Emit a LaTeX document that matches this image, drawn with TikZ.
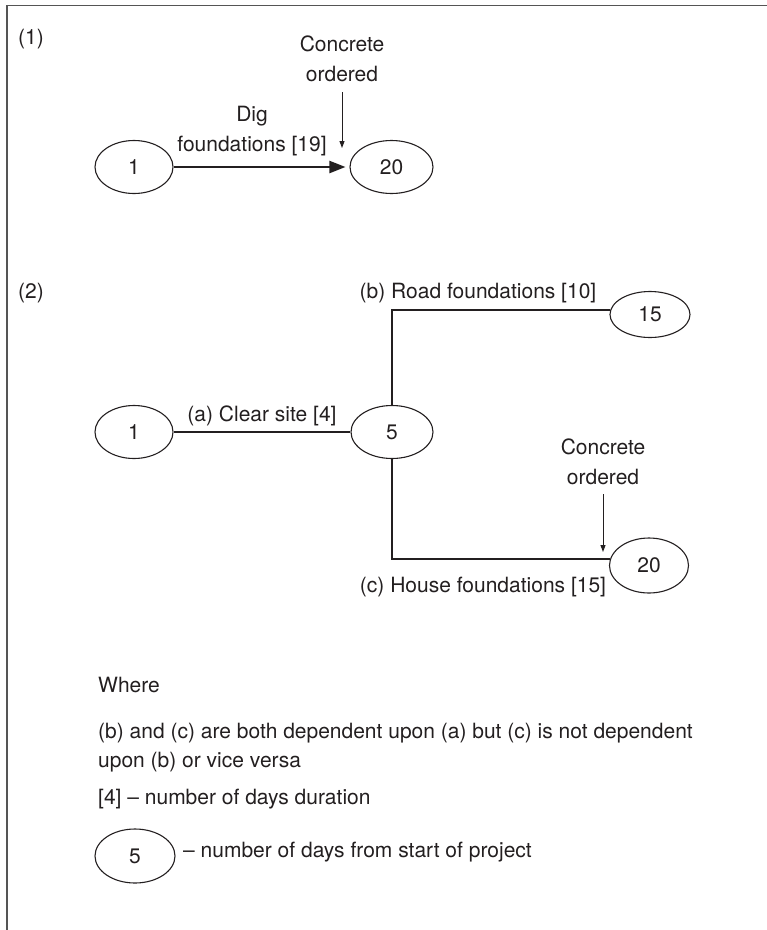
\documentclass[tikz,border=0pt]{standalone}
\usepackage{fontspec}
\setmainfont{TeX Gyre Heros}
\usetikzlibrary{arrows.meta,shapes.geometric}
\definecolor{ink}{HTML}{231F20}
\definecolor{rule}{HTML}{555555}
\begin{document}
\begin{tikzpicture}[x=1pt,y=-1pt,
  every node/.style={text=ink,font=\fontsize{21}{30}\selectfont,inner sep=0pt},
  event/.style={draw=ink,line width=1.1pt,ellipse,minimum width=#1,minimum height=53pt},
  event/.default=80pt,
  activity/.style={draw=ink,line width=2.2pt},
  mainarrow/.style={activity,-{Triangle[length=16pt,width=12pt]},shorten >=4pt},
  note/.style={draw=ink,line width=1pt,-{Triangle[length=7pt,width=5pt]}},
  label/.style={anchor=base},
  twoline/.style={align=center,anchor=south},
  frameline/.style={draw=rule,line width=1.6pt}
]
\useasboundingbox (0,0) rectangle (767,930);

% open frame: top and left edges only
\draw[frameline] (767,5.5) -- (7,5.5) -- (7,930);

% ---------- (1) single activity ----------
\node[anchor=base west] (tag1) at (18,44) {(1)};
\node[event=78pt] (p1) at (134,167) {1};
\node[event=83pt] (p20) at (391.5,167) {20};
\draw[mainarrow] (p1) -- (p20);
\node[twoline] (dig) at (252,156.4) {Dig\\foundations [19]};
\node[twoline] (conc1) at (342,82) {Concrete\\ordered};
\coordinate (tip1) at (342,148);
\draw[note,shorten <=10pt] (conc1.south) -- (tip1);

% ---------- (2) branching activities ----------
\node[anchor=base west] (tag2) at (18,298.5) {(2)};
\node[event=78pt] (q1) at (134,432) {1};
\node[event=82pt] (q5) at (392,432) {5};
\node[event=80pt,minimum height=46pt] (q15) at (650,314.5) {15};
\node[event=79pt,minimum height=55pt] (q20) at (649,565.5) {20};

\draw[activity] (q1) -- (q5);
\draw[activity] (q5.north) |- (q15.173);
\draw[activity] (q5.south) |- (q20.171);

\node[label] (la) at (262,421) {(a) Clear site [4]};
\node[label] (lb) at (478,298.5) {(b) Road foundations [10]};
\node[label] (lc) at (483,592) {(c) House foundations [15]};

\node[twoline] (conc2) at (603,485) {Concrete\\ordered};
\coordinate (tip2) at (603,552);
\draw[note,shorten <=9pt] (conc2.south) -- (tip2);

% ---------- key ----------
\node[anchor=base west] (where) at (98,692) {Where};
\node[anchor=base west] (dep1) at (98,738) {(b) and (c) are both dependent upon (a) but (c) is not dependent};
\node[anchor=base west] (dep2) at (98,767) {upon (b) or vice versa};
\node[anchor=base west] (dur) at (98,804) {[4] -- number of days duration};
\node[event=80pt,minimum height=54pt] (key5) at (135,856) {5};
\node[anchor=base west] (keytxt) at (183,857) {-- number of days from start of project};
\end{tikzpicture}
\end{document}
